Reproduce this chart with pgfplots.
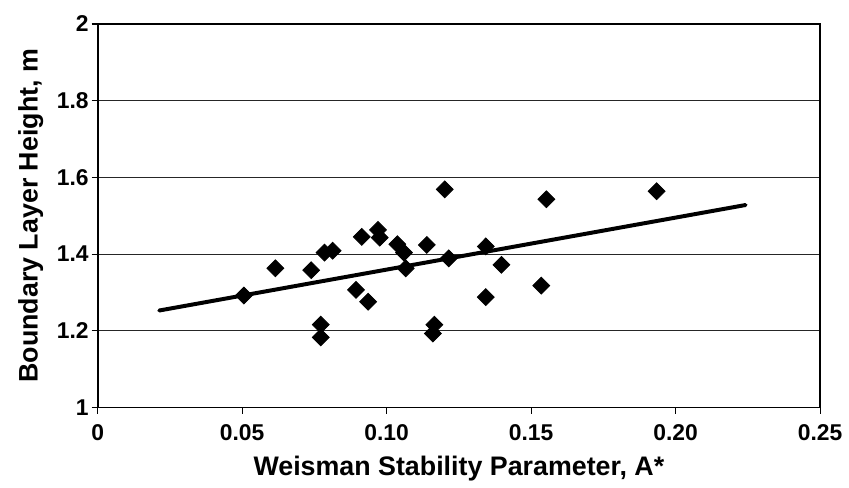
\documentclass[border=0pt]{standalone}
\usepackage{pgfplots}
\pgfplotsset{compat=1.18}
\usepackage{fontspec}
\setmainfont{Liberation Sans}

\begin{document}
\begin{tikzpicture}
\begin{axis}[
	scale only axis,
	width=362.5bp, height=192.5bp,
	xmin=0, xmax=0.25,
	ymin=1, ymax=2,
	xtick={0,0.05,0.10,0.15,0.20,0.25},
	xticklabels={0,0.05,0.10,0.15,0.20,0.25},
	ytick={1,1.2,1.4,1.6,1.8,2},
	yticklabels={1,1.2,1.4,1.6,1.8,2},
	tick align=outside,
	major tick length=3bp,
	tick style={black, line width=0.6pt},
	xtick pos=bottom, ytick pos=left,
	axis line style={black, line width=0.9pt},
	ymajorgrids,
	grid style={black!85, line width=0.6pt},
	ticklabel style={font=\fontsize{11.5}{13}\selectfont\bfseries},
	/pgf/number format/assume math mode=true,
	xticklabel style={yshift=-2bp},
	yticklabel style={xshift=2bp},
	xlabel={Weisman Stability Parameter, A*},
	ylabel={Boundary Layer Height, m},
	label style={font=\fontsize{13.5}{15}\selectfont\bfseries},
	xlabel style={yshift=-1bp},
]
\addplot[only marks, mark=square*, mark size=3pt, mark options={rotate=45, fill=black, draw=black}]
	coordinates {
		(0.0506,1.292)(0.0615,1.363)(0.0739,1.358)(0.0785,1.404)(0.0813,1.409)
		(0.0772,1.216)(0.0772,1.183)(0.0894,1.307)(0.0936,1.276)(0.0914,1.445)
		(0.0970,1.463)(0.0976,1.443)(0.1037,1.426)(0.1060,1.404)(0.1066,1.363)
		(0.1139,1.424)(0.1165,1.216)(0.1160,1.193)(0.1201,1.569)(0.1215,1.389)
		(0.1343,1.420)(0.1397,1.372)(0.1343,1.288)(0.1553,1.543)(0.1535,1.318)
		(0.1934,1.564)
	};
\addplot[black, line width=2pt, line cap=round]
	coordinates {(0.0213,1.253)(0.2242,1.528)};
\end{axis}
\path ([shift={(-49bp,-37.5bp)}]current axis.south west) rectangle ([shift={(13bp,12bp)}]current axis.north east);
\end{tikzpicture}
\end{document}
